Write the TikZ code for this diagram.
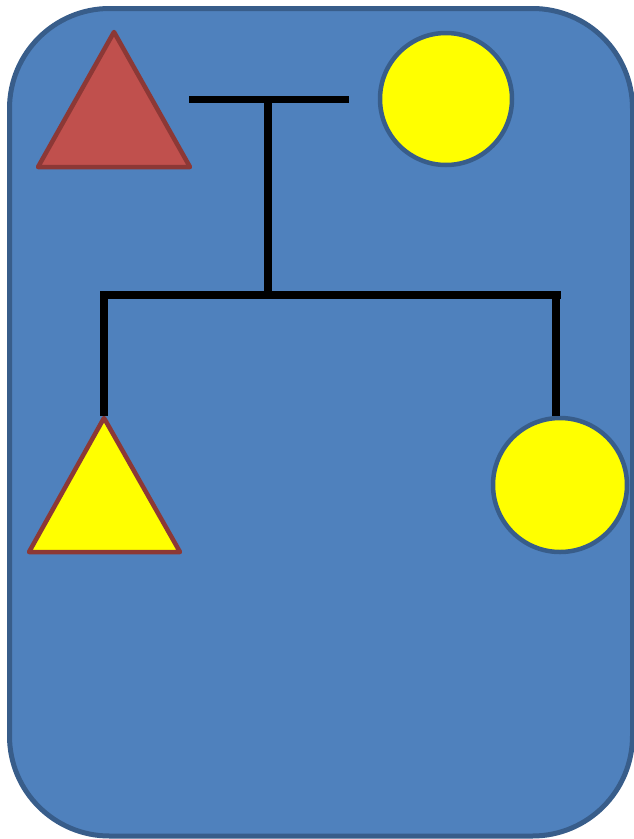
\documentclass[tikz,border=0pt]{standalone}
\usepackage{tikz}
\usetikzlibrary{positioning}
\definecolor{boxAzul}{HTML}{4F81BD}
\definecolor{boxBorde}{HTML}{385D8A}
\definecolor{triRojo}{HTML}{C0504D}
\definecolor{triBorde}{HTML}{8C3836}
\definecolor{solAmarillo}{HTML}{FFFF00}

\begin{document}
\begin{tikzpicture}[x=1pt, y=-1pt,
      panel/.style={draw=boxBorde, line width=5pt, fill=boxAzul, rounded corners=100pt},
      tri/.style={draw=triBorde, line width=4.5pt, fill=#1, line join=round},
      sol/.style={circle, draw=boxBorde, line width=4.5pt, fill=solAmarillo,
                  minimum size=#1, inner sep=0pt, outer sep=0pt},
      bar/.style={line width=8pt, black}]
    \useasboundingbox (0,0) rectangle (634,839);
    \draw[panel] (9.5,8.5) rectangle (632.5,836);
    % colgantes
    \draw[tri=triRojo] (38,167) -- (114,32) -- (190,167) -- cycle;
    \node[sol=132pt] (solA) at (446,99) {};
    \draw[tri=solAmarillo] (29,552) -- (104,418) -- (180,552) -- cycle;
    \coordinate (punta) at (104,416);
    \node[sol=134pt] (solB) at (560,485) {};
    % varillas
    \coordinate (varA1) at (189,99);
    \coordinate (varA2) at (349,99);
    \coordinate (cuelgue) at (268,99);
    \coordinate (varB1) at (104,295);
    \coordinate (varB2) at (561,295);
    \coordinate (centro) at (268,295);
    \draw[bar, line width=7pt] (varA1) -- (varA2);
    \draw[bar] (cuelgue) -- (centro);
    \draw[bar] (varB1) -- (varB2);
    \draw[bar] (104,291) -- (punta);
    \draw[bar] (556,291) -- (556,416);
  \end{tikzpicture}
\end{document}
